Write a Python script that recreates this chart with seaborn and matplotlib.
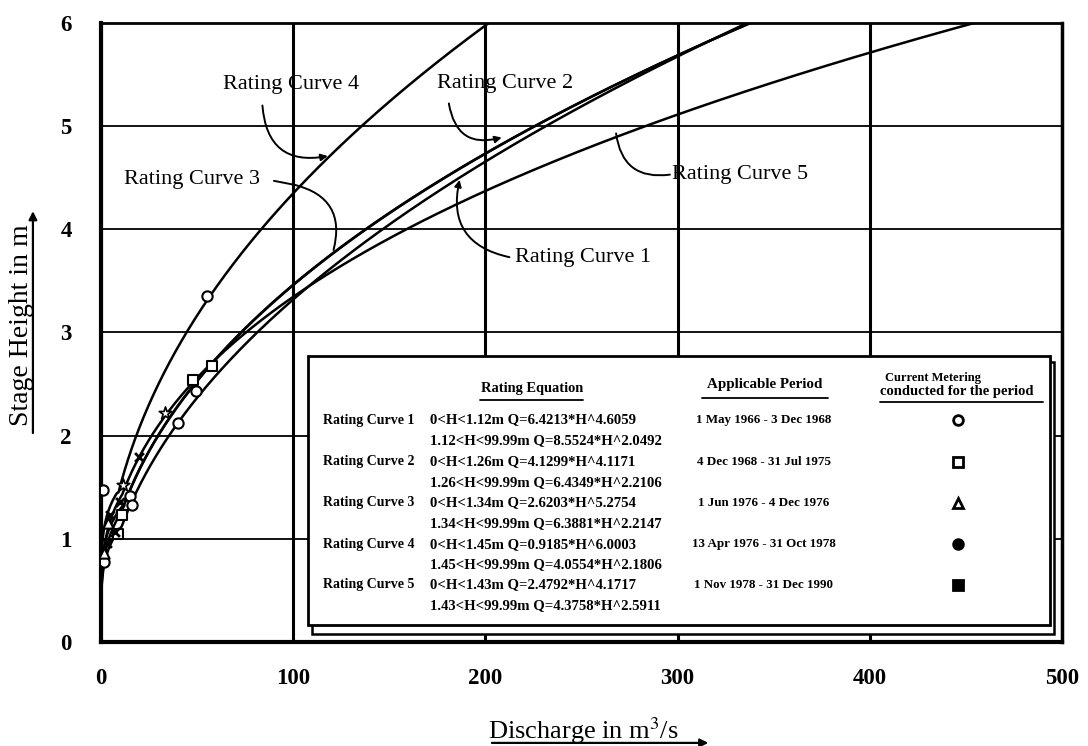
import numpy as np
import pandas as pd
import matplotlib
matplotlib.use("Agg")
import matplotlib.pyplot as plt
from matplotlib.patches import Rectangle
from matplotlib.lines import Line2D
import seaborn as sns

# ---- rating curve definitions: Q = a * H^b, with a break in stage ----
curve_names = ["Rating Curve 1", "Rating Curve 2", "Rating Curve 3",
               "Rating Curve 4", "Rating Curve 5"]
break_stage = [1.12, 1.26, 1.34, 1.45, 1.43]
coef_low = [6.4213, 4.1299, 2.6203, 0.9185, 2.4792]
exp_low = [4.6059, 4.1171, 5.2754, 6.0003, 4.1717]
coef_high = [8.5524, 6.4349, 6.3881, 4.0554, 4.3758]
exp_high = [2.0492, 2.2106, 2.2147, 2.1806, 2.5911]
periods = ["1 May 1966 - 3 Dec 1968", "4 Dec 1968 - 31 Jul 1975",
           "1 Jun 1976 - 4 Dec 1976", "13 Apr 1976 - 31 Oct 1978",
           "1 Nov 1978 - 31 Dec 1990"]

# ---- current metering observations (discharge m3/s, stage m) ----
obs_circle_q = [55.0, 49.3, 40.2, 0.9, 15.1, 16.0, 1.6]
obs_circle_h = [3.35, 2.43, 2.12, 1.47, 1.42, 1.33, 0.78]
obs_square_q = [57.6, 48.0, 10.8, 9.0]
obs_square_h = [2.68, 2.54, 1.23, 1.05]
obs_triangle_q = [3.8, 1.6]
obs_triangle_h = [1.15, 0.86]
obs_cross_q = [19.9, 9.9, 4.7, 7.3, 3.0]
obs_cross_h = [1.79, 1.36, 1.23, 1.07, 0.96]
obs_star_q = [33.3, 11.6]
obs_star_h = [2.22, 1.52]

x_ticks = [0, 100, 200, 300, 400, 500]
y_ticks = [0, 1, 2, 3, 4, 5, 6]

sns.set_theme(style="white")
plt.rcParams["font.family"] = ["Liberation Serif", "DejaVu Serif"]
plt.rcParams["mathtext.fontset"] = "stix"

fig = plt.figure(figsize=(10.88, 7.46), dpi=100)
ax = fig.add_axes([0.0928, 0.1394, 0.8833, 0.8298])

# ---- rating curves ----
stage = np.linspace(0.0, 6.3, 600)
rows = []
for name, hb, a1, b1, a2, b2 in zip(curve_names, break_stage, coef_low, exp_low,
                                    coef_high, exp_high):
    q = np.where(stage < hb, a1 * stage ** b1, a2 * stage ** b2)
    rows.append(pd.DataFrame({"curve": name, "Q": q, "H": stage}))
curves = pd.concat(rows, ignore_index=True)
sns.lineplot(data=curves, x="Q", y="H", hue="curve", palette=["black"] * 5,
             sort=False, estimator=None, legend=False, linewidth=1.8, ax=ax,
             zorder=3)

# ---- observations ----
mk = dict(color="white", edgecolor="black", linewidth=1.5, s=55, zorder=4, ax=ax)
sns.scatterplot(x=obs_circle_q, y=obs_circle_h, marker="o", **mk)
sns.scatterplot(x=obs_square_q, y=obs_square_h, marker="s", **mk)
sns.scatterplot(x=obs_triangle_q, y=obs_triangle_h, marker="^", **mk)
sns.scatterplot(x=obs_star_q, y=obs_star_h, marker="*", s=90, color="white",
                edgecolor="black", linewidth=1.2, zorder=4, ax=ax)
sns.scatterplot(x=obs_cross_q, y=obs_cross_h, marker="x", s=40, color="black",
                linewidth=2.0, zorder=4, ax=ax)

# ---- axes ----
ax.set_xlim(0, 500)
ax.set_ylim(0, 6)
ax.set_xticks(x_ticks)
ax.set_yticks(y_ticks)
ax.set_xticklabels([str(v) for v in x_ticks])
ax.set_yticklabels([str(v) for v in y_ticks])
ax.tick_params(axis="both", length=0, labelsize=16.5, colors="black")
ax.tick_params(axis="x", pad=19)
ax.tick_params(axis="y", pad=21)
for lab in ax.get_xticklabels() + ax.get_yticklabels():
    lab.set_fontweight("bold")
ax.xaxis.grid(True, color="black", linewidth=2.2)
ax.yaxis.grid(True, color="black", linewidth=1.3)
ax.set_axisbelow(True)
for side, lw in (("left", 3.0), ("bottom", 3.0), ("top", 2.0), ("right", 2.5)):
    ax.spines[side].set_color("black")
    ax.spines[side].set_linewidth(lw)
    ax.spines[side].set_visible(True)

ax.set_xlabel("Discharge in m$^3$/s", fontsize=19, color="black", va="center")
ax.xaxis.set_label_coords(0.5016, -0.144)
ax.set_ylabel("Stage Height in m", fontsize=20, color="black", va="center")
ax.yaxis.set_label_coords(-0.0832, 0.512)

# underline arrows under the axis titles
ax.annotate("", xy=(0.632, -0.163), xytext=(0.4068, -0.163),
            xycoords="axes fraction", textcoords="axes fraction",
            annotation_clip=False,
            arrowprops=dict(arrowstyle="-|>", color="black", lw=1.6,
                            mutation_scale=12, shrinkA=0, shrinkB=0))
ax.annotate("", xy=(-0.0708, 0.696), xytext=(-0.0708, 0.3376),
            xycoords="axes fraction", textcoords="axes fraction",
            annotation_clip=False,
            arrowprops=dict(arrowstyle="-|>", color="black", lw=1.6,
                            mutation_scale=12, shrinkA=0, shrinkB=0))

# ---- curve labels with leader lines ----
lbl = dict(fontsize=16, color="black", ha="center", va="center", zorder=6)
ax.text(98.9, 5.40, curve_names[3], **lbl)
ax.text(210.5, 5.41, curve_names[1], **lbl)
ax.text(47.2, 4.48, curve_names[2], **lbl)
ax.text(215.4, 3.73, curve_names[0], fontsize=16, color="black", ha="left",
        va="center", zorder=6)
ax.text(297, 4.53, curve_names[4], fontsize=16, color="black", ha="left",
        va="center", zorder=6)


def leader(start, end, rad, head=True):
    ax.annotate("", xy=end, xytext=start, zorder=6,
                arrowprops=dict(arrowstyle="-|>" if head else "-",
                                connectionstyle=f"arc3,rad={rad}",
                                color="black", lw=1.4, mutation_scale=10,
                                shrinkA=0, shrinkB=0))


leader((84, 5.20), (118, 4.71), 0.55)
leader((181, 5.22), (208.5, 4.89), 0.55)
ax.plot([90, 101], [4.47, 4.43], color="black", lw=1.4, zorder=6)
leader((101, 4.43), (121, 3.80), -0.5, head=False)
leader((212.5, 3.73), (186.6, 4.48), -0.5)
leader((296, 4.53), (268, 4.93), -0.5, head=False)

# ---- table of rating equations ----
tr = ax.transAxes
ax.add_patch(Rectangle((0.2196, 0.0129), 0.9917 - 0.2196, 0.4523 - 0.0129,
                       transform=tr, facecolor="white", edgecolor="black",
                       linewidth=1.8, zorder=7))
ax.add_patch(Rectangle((0.2154, 0.0275), 0.9875 - 0.2154, 0.4620 - 0.0275,
                       transform=tr, facecolor="white", edgecolor="black",
                       linewidth=2.0, zorder=8))

tb = dict(transform=tr, fontweight="bold", color="black", va="center", zorder=9)
ax.text(0.4482, 0.4099, "Rating Equation", ha="center", fontsize=10.4, **tb)
ax.text(0.6910, 0.4152, "Applicable Period", ha="center", fontsize=10.8, **tb)
ax.text(0.8160, 0.4260, "Current Metering", ha="left", fontsize=9, **tb)
ax.text(0.8106, 0.4044, "conducted for the period", ha="left", fontsize=10.5,
        **tb)
for x0, x1, y in ((0.3944, 0.5016, 0.3910), (0.6254, 0.7565, 0.3942),
                  (0.8106, 0.9802, 0.3882)):
    ax.add_line(Line2D([x0, x1], [y, y], transform=tr, color="black",
                       lw=1.3, zorder=9))

row_y = [0.3586, 0.2913, 0.2250, 0.1578, 0.0921]
line_gap = 0.0331
meter_markers = [("o", "white"), ("s", "white"), ("^", "white"),
                 ("o", "black"), ("s", "black")]
for i, name in enumerate(curve_names):
    y = row_y[i]
    ax.text(0.2310, y, name, ha="left", fontsize=10, **tb)
    ax.text(0.3424, y,
            f"0<H<{break_stage[i]:.2f}m Q={coef_low[i]:.4f}*H^{exp_low[i]:.4f}",
            ha="left", fontsize=10.6, **tb)
    ax.text(0.3424, y - line_gap,
            f"{break_stage[i]:.2f}<H<99.99m Q={coef_high[i]:.4f}*H^{exp_high[i]:.4f}",
            ha="left", fontsize=10.6, **tb)
    ax.text(0.6899, y, periods[i], ha="center", fontsize=9.4, **tb)
    m, fc = meter_markers[i]
    ax.plot([0.8918], [y], marker=m, markersize=7, markerfacecolor=fc,
            markeredgecolor="black", markeredgewidth=2.0, linestyle="none",
            transform=tr, zorder=9)

fig.savefig("out.png", dpi=100, facecolor="white")
